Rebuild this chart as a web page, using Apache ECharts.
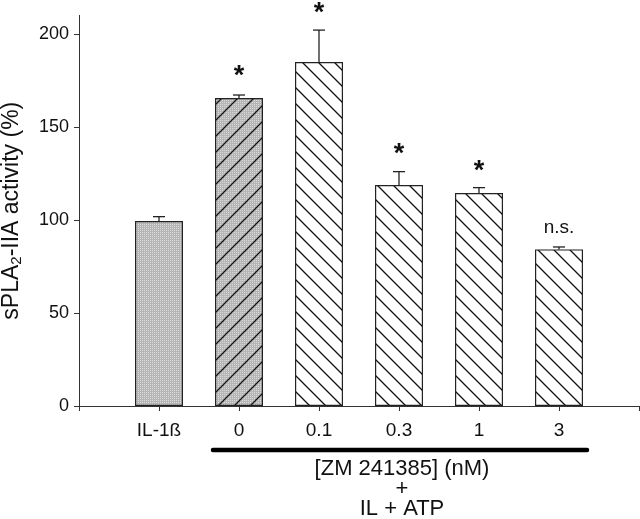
<!DOCTYPE html>
<html><head><meta charset="utf-8">
<script src="https://cdn.jsdelivr.net/npm/echarts@6/dist/echarts.min.js"></script>
<style>html,body{margin:0;padding:0;background:#fff}#c{width:640px;height:519px}</style>
</head><body><div id="c"></div>
<script>
// ---- data ----
const categories = ['IL-1ß', '0', '0.1', '0.3', '1', '3'];
const means = [99.5, 165.6, 184.9, 118.8, 114.5, 84.2];
const errors = [2.3, 1.6, 17.2, 7.2, 2.9, 1.3];
const marks = ['', '*', '*', '*', '*', 'n.s.'];
const markValues = [null, 181, 215, 139, 130, 96];
const yTicks = [0, 50, 100, 150, 200];
const patterns = ['stipple', 'stippleHatch', 'hatch', 'hatch', 'hatch', 'hatch'];

// ---- patterns ----
function makeCanvas(w, h) { const c = document.createElement('canvas'); c.width = w; c.height = h; return c; }
function stippleFill(ctx, w, h) {
  ctx.fillStyle = '#b5b5b5'; ctx.fillRect(0, 0, w, h);
  ctx.fillStyle = '#dcdcdc';
  for (let y = 0; y < h; y += 2) for (let x = 0; x < w; x += 2) ctx.fillRect(x, y, 1, 1);
}
function hatchLines(ctx, s, dir) {
  ctx.strokeStyle = '#111'; ctx.lineWidth = 1.3;
  ctx.beginPath();
  for (let k = -1; k <= 1; k++) {
    if (dir === 'back') { ctx.moveTo(k * s - 1, -1); ctx.lineTo(k * s + s + 1, s + 1); }
    else { ctx.moveTo(k * s - 1, s + 1); ctx.lineTo(k * s + s + 1, -1); }
  }
  ctx.stroke();
}
function makePattern(kind) {
  const s = 16, c = makeCanvas(s, s), ctx = c.getContext('2d');
  if (kind === 'stipple') { stippleFill(ctx, s, s); }
  else if (kind === 'stippleHatch') { stippleFill(ctx, s, s); hatchLines(ctx, s, 'fwd'); }
  else { ctx.fillStyle = '#fff'; ctx.fillRect(0, 0, s, s); hatchLines(ctx, s, 'back'); }
  return { image: c, repeat: 'repeat' };
}

const chart = echarts.init(document.getElementById('c'), null, { renderer: 'canvas' });
const font = 'Liberation Sans, Arial, sans-serif';

chart.setOption({
  animation: false,
  grid: { left: 79, right: 1, top: 15.4, bottom: 113, containLabel: false, outerBoundsMode: 'none' },
  xAxis: {
    type: 'value', min: 0, max: 7, interval: 1,
    splitLine: { show: false },
    axisLine: { lineStyle: { color: '#333', width: 1 } },
    axisTick: { length: 5, lineStyle: { color: '#333' }, customValues: [0, 1, 2, 3, 4, 5, 6, 7] },
    axisLabel: {
      customValues: [1, 2, 3, 4, 5, 6], margin: 15,
      color: '#111', fontSize: 19, fontFamily: font,
      formatter: v => categories[Math.round(v) - 1] || ''
    }
  },
  yAxis: {
    type: 'value', min: 0, max: 210, interval: 50,
    splitLine: { show: false },
    axisLine: { show: true, lineStyle: { color: '#333', width: 1 } },
    axisTick: { show: true, length: 5, lineStyle: { color: '#333' }, customValues: yTicks },
    axisLabel: { customValues: yTicks, margin: 10, color: '#111', fontSize: 18, fontFamily: font },
    name: 'sPLA{sub|2}-IIA activity (%)',
    nameLocation: 'middle', nameGap: 55,
    nameTextStyle: {
      fontSize: 23, color: '#111', fontFamily: font,
      rich: { sub: { fontSize: 15, fontFamily: font, color: '#111', padding: [10, 0, 0, 0] } }
    }
  },
  series: [
    {
      type: 'bar', barWidth: 48,
      data: means.map((m, i) => ({
        value: [i + 1, m],
        itemStyle: { color: makePattern(patterns[i]), borderColor: '#222', borderWidth: 1.2 }
      })),
      z: 2
    },
    {
      type: 'custom', z: 3, clip: false,
      data: means.map((m, i) => [i + 1, m, m + errors[i]]),
      renderItem: (params, api) => {
        const x = api.value(0);
        const p0 = api.coord([x, api.value(1)]);
        const p1 = api.coord([x, api.value(2)]);
        const hw = 6;
        return {
          type: 'group', children: [
            { type: 'line', shape: { x1: p0[0], y1: p0[1], x2: p1[0], y2: p1[1] }, style: { stroke: '#222', lineWidth: 1.3 } },
            { type: 'line', shape: { x1: p1[0] - hw, y1: p1[1], x2: p1[0] + hw, y2: p1[1] }, style: { stroke: '#222', lineWidth: 1.3 } }
          ]
        };
      }
    },
    {
      type: 'custom', z: 4, clip: false,
      data: markValues.map((v, i) => [i + 1, v == null ? NaN : v, i]),
      renderItem: (params, api) => {
        const i = api.value(2);
        const v = markValues[i];
        if (v == null) return null;
        const p = api.coord([api.value(0), v]);
        const isStar = marks[i] === '*';
        return {
          type: 'text',
          x: p[0], y: p[1] + (isStar ? 7 : 0),
          style: {
            text: marks[i], align: 'center', verticalAlign: 'middle',
            font: isStar ? 'bold 27px ' + font : '19px ' + font,
            fill: '#111'
          }
        };
      }
    }
  ],
  graphic: [
    { type: 'line', shape: { x1: 213, y1: 450, x2: 587, y2: 450 }, style: { stroke: '#000', lineWidth: 4.5, lineCap: 'round' } },
    { type: 'text', x: 402, y: 469, style: { text: '[ZM 241385] (nM)', align: 'center', verticalAlign: 'middle', font: '22px ' + font, fill: '#111' } },
    { type: 'text', x: 402, y: 489, style: { text: '+', align: 'center', verticalAlign: 'middle', font: '22px ' + font, fill: '#111' } },
    { type: 'text', x: 402, y: 509, style: { text: 'IL + ATP', align: 'center', verticalAlign: 'middle', font: '22px ' + font, fill: '#111' } }
  ]
});
</script></body></html>
